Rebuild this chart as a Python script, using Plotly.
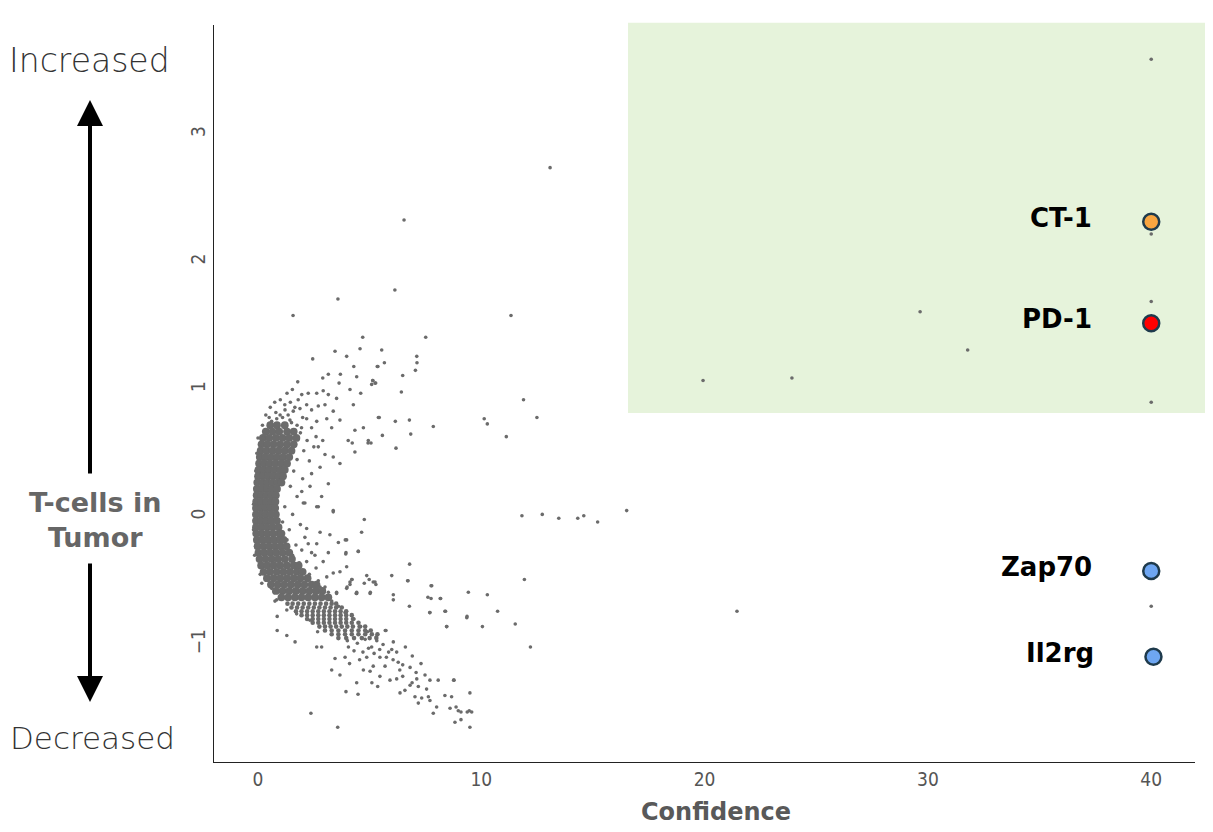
import plotly.graph_objects as go

# ---------------- data ----------------
# dense core of the crescent: rows of (log-change, [confidence values])
core_rows = [
    (0.72, [0.55, 0.85, 1.2]),
    (0.67, [0.35, 0.65, 0.95, 1.3, 1.6]),
    (0.62, [0.22, 0.5, 0.8, 1.1, 1.4, 1.72]),
    (0.57, [0.16, 0.42, 0.7, 1.0, 1.3, 1.6]),
    (0.52, [0.12, 0.38, 0.65, 0.92, 1.2, 1.5]),
    (0.47, [0.08, 0.32, 0.58, 0.85, 1.12, 1.4]),
    (0.42, [0.05, 0.28, 0.52, 0.78, 1.05, 1.3]),
    (0.37, [0.02, 0.25, 0.48, 0.72, 0.98, 1.2]),
    (0.32, [0.0, 0.22, 0.45, 0.68, 0.92, 1.12]),
    (0.27, [-0.03, 0.2, 0.42, 0.65, 0.88, 1.05]),
    (0.22, [-0.05, 0.18, 0.4, 0.62, 0.85]),
    (0.17, [-0.06, 0.16, 0.38, 0.6, 0.8]),
    (0.12, [-0.08, 0.14, 0.36, 0.58, 0.78]),
    (0.07, [-0.09, 0.13, 0.35, 0.57, 0.77]),
    (0.02, [-0.09, 0.13, 0.35, 0.57, 0.8]),
    (-0.03, [-0.09, 0.14, 0.37, 0.6, 0.85]),
    (-0.08, [-0.09, 0.15, 0.4, 0.65, 0.92]),
    (-0.13, [-0.08, 0.17, 0.42, 0.68, 0.95, 1.05]),
    (-0.18, [-0.05, 0.2, 0.45, 0.72, 0.98, 1.15]),
    (-0.23, [-0.02, 0.24, 0.5, 0.76, 1.02, 1.28]),
    (-0.28, [0.02, 0.28, 0.55, 0.82, 1.1, 1.4]),
    (-0.33, [0.07, 0.34, 0.62, 0.9, 1.2, 1.52]),
    (-0.38, [0.14, 0.42, 0.7, 1.0, 1.3, 1.6, 1.82]),
    (-0.43, [0.25, 0.54, 0.84, 1.14, 1.44, 1.74, 2.0]),
    (-0.48, [0.4, 0.7, 1.0, 1.3, 1.6, 1.9, 2.22]),
    (-0.53, [0.58, 0.88, 1.18, 1.48, 1.78, 2.08, 2.4, 2.62]),
    (-0.58, [0.8, 1.1, 1.4, 1.7, 2.0, 2.3, 2.6, 2.88]),
    (-0.63, [1.05, 1.35, 1.65, 1.95, 2.25, 2.55, 2.85, 3.15]),
]

# lower arm of the crescent, still dense but with distinct points
lower_arm_rows = [
    (-0.68, [1.32, 1.55, 1.8, 2.05, 2.3, 2.55, 2.8, 3.05, 3.3, 3.5]),
    (-0.71, [1.5, 1.75, 2.0, 2.25, 2.5, 2.75, 3.0, 3.25, 3.5, 3.75]),
    (-0.74, [1.7, 1.95, 2.2, 2.45, 2.7, 2.95, 3.2, 3.45, 3.7, 3.95]),
    (-0.77, [1.95, 2.2, 2.45, 2.7, 2.95, 3.2, 3.45, 3.7, 3.95, 4.2]),
    (-0.80, [2.2, 2.45, 2.7, 2.95, 3.2, 3.45, 3.7, 3.95, 4.25]),
    (-0.83, [2.45, 2.7, 2.95, 3.2, 3.45, 3.7, 3.95, 4.2, 4.5]),
    (-0.86, [2.75, 3.0, 3.25, 3.5, 3.75, 4.0, 4.25, 4.55, 4.8]),
    (-0.89, [3.0, 3.3, 3.6, 3.9, 4.2, 4.5, 4.8, 5.05]),
    (-0.92, [3.3, 3.6, 3.9, 4.2, 4.5, 4.8, 5.1, 5.35]),
    (-0.95, [3.6, 3.95, 4.3, 4.65, 5.0, 5.3]),
]

# scattered genes around the crescent (confidence, log-change)
halo_pts = [
    (2.45, 1.24), (3.45, 1.30), (3.97, 1.26), (4.57, 1.32), (4.29, 1.18), (5.37, 1.18),
    (1.78, 1.06), (2.90, 1.09), (3.15, 1.12), (3.69, 1.12), (3.63, 1.05), (4.12, 1.00),
    (4.42, 1.10), (4.60, 0.97), (5.14, 1.07), (5.27, 1.05), (1.30, 0.97), (1.54, 1.00),
    (1.80, 0.92), (1.96, 0.96), (2.25, 0.97), (2.63, 0.97), (2.92, 0.99), (3.15, 0.96),
    (3.52, 0.93), (4.27, 0.88), (0.99, 0.80), (1.21, 0.84), (1.58, 0.83), (1.88, 0.85),
    (2.18, 0.88), (2.40, 0.84), (2.70, 0.87), (3.00, 0.88), (3.37, 0.83), (0.61, 0.75),
    (0.84, 0.77), (1.43, 0.76), (2.18, 0.77), (2.63, 0.75), (3.08, 0.77), (3.30, 0.70),
    (0.24, 0.62), (3.67, 0.76), (5.39, 0.78), (4.34, 0.68), (4.72, 0.70), (4.04, 0.60),
    (4.94, 0.60), (4.34, 0.51), (3.67, 0.42), (3.37, 0.47), (3.00, 0.49), (2.70, 0.55),
    (2.40, 0.34), (2.78, 0.39), (3.15, 0.26), (2.85, 0.16), (2.63, 0.08), (3.37, 0.05),
    (2.33, 0.24), (1.96, 0.20), (2.10, 0.11), (4.69, 1.41), (4.22, 0.58), (4.93, 0.58),
    (1.90, 0.66), (2.20, 0.60), (2.05, 0.52), (1.75, 0.45), (2.30, 0.44), (1.60, 0.36),
    (2.00, 0.30), (1.45, 0.24), (1.75, 0.16), (1.20, 0.08), (1.55, 0.02), (1.10, -0.04),
    (1.40, -0.10), (1.90, -0.06), (1.30, -0.18), (1.70, -0.22), (1.55, -0.30), (2.10, -0.16),
    (1.85, -0.36), (2.40, -0.28), (2.60, -0.40), (2.30, -0.45), (2.70, -0.50), (3.00, -0.55),
    (3.30, -0.66), (3.60, -0.70), (3.90, -0.75), (4.30, -0.80), (4.60, -0.86), (4.90, -0.90),
    (5.30, -0.94), (0.00, 0.62), (-0.05, 0.50), (-0.10, 0.36), (-0.20, 0.10), (-0.20, -0.10),
    (-0.15, -0.30), (0.10, -0.45), (0.20, 0.72), (0.35, 0.80), (0.55, 0.86), (0.75, 0.90),
    (1.00, 0.92), (1.20, 0.88), (1.45, 0.90), (1.65, 0.86), (2.00, 0.78), (2.40, 0.70),
    (2.60, 0.63), (2.90, 0.60), (2.50, 0.55), (0.50, 0.78), (1.50, 0.74), (1.75, 0.72),
    (1.95, 0.70), (1.10, 0.78), (0.80, 0.82), (1.35, 0.80),
    (3.37, 0.04), (4.76, -0.02), (4.64, -0.12), (2.70, 0.08), (2.03, 0.11), (2.18, -0.09),
    (2.78, -0.12), (3.22, -0.14), (3.97, -0.18), (3.60, -0.20), (2.63, -0.21), (2.25, -0.21),
    (1.96, -0.26), (3.15, -0.28), (3.94, -0.28), (4.49, -0.27), (2.55, -0.30), (2.92, -0.35),
    (2.18, -0.35), (3.97, -0.39), (3.67, -0.43), (3.37, -0.44), (3.08, -0.47), (4.87, -0.46),
    (4.20, -0.49), (4.12, -0.53), (4.42, -0.59), (4.98, -0.49), (5.24, -0.51), (3.15, -0.59),
    (3.52, -0.59), (2.78, -0.55), (0.17, -0.52), (0.54, -0.53), (0.61, -0.56), (0.84, -0.65),
    (0.76, -0.66), (1.29, -0.73), (0.86, -0.78), (1.73, -0.76), (0.86, -0.89), (1.29, -0.93),
    (1.66, -0.98), (2.63, -1.02), (2.85, -1.02), (2.33, -0.81), (2.67, -0.90),
    (3.91, -0.18), (4.49, -0.27), (3.93, -0.29), (4.21, -0.49), (3.99, -0.55), (5.03, -0.59),
    (4.40, -0.60), (5.16, -0.51), (4.76, -0.52),
]

tail_pts = [
    (3.94, -1.37), (4.48, -1.39), (5.36, -1.33), (5.73, -0.89), (6.06, -0.98), (6.91, -1.09),
    (7.30, -1.15), (6.28, -1.14), (6.81, -1.18), (7.08, -1.22), (5.46, -1.25), (5.91, -1.28),
    (6.21, -1.27), (6.48, -1.25), (7.11, -1.27), (7.48, -1.24), (7.70, -1.28), (8.07, -1.28),
    (8.78, -1.28), (6.81, -1.32), (7.18, -1.33), (7.55, -1.35), (6.36, -1.38), (6.58, -1.36),
    (7.03, -1.41), (7.33, -1.42), (7.63, -1.41), (7.18, -1.46), (7.70, -1.44), (8.00, -1.49),
    (8.37, -1.40), (8.67, -1.41), (7.85, -1.54), (8.60, -1.50), (8.87, -1.49), (8.97, -1.52),
    (9.37, -1.53), (9.57, -1.53), (8.82, -1.61), (9.09, -1.59), (9.49, -1.65), (9.49, -1.38),
    (9.35, -0.79), (8.45, -0.86), (8.37, -0.74), (7.70, -0.75), (7.75, -0.64), (6.78, -0.70),
    (7.61, -0.63), (8.16, -0.64), (9.42, -0.59), (6.06, -0.61), (6.06, -0.65), (6.70, -0.50),
    (7.78, -0.54), (5.02, -0.60), (5.28, -0.53), (3.52, -0.60), (3.97, -0.56), (4.12, -0.51),
    (4.42, -0.60), (5.32, -0.97), (5.09, -1.02), (4.87, -1.10), (5.46, -1.10), (5.69, -1.17),
    (5.16, -1.17), (4.72, -1.20), (5.99, -1.04), (5.02, -1.21), (6.21, -1.06), (6.48, -1.16),
    (3.90, -1.10), (3.45, -1.11), (3.30, -1.20), (3.67, -1.24), (4.42, -1.30), (4.00, -0.97),
    (4.45, -0.99), (4.80, -0.96), (5.60, -1.00), (4.30, -1.05), (4.70, -1.06), (5.20, -1.07),
    (6.60, -1.02), (6.35, -1.20), (5.75, -1.10), (4.10, -1.15), (6.90, -1.30), (5.10, -1.30),
    (5.70, -0.89), (8.76, -1.28), (9.46, -1.52), (9.09, -1.53), (2.37, -1.54), (3.57, -1.65),
    (7.75, -0.54), (8.18, -0.64), (7.69, -0.75), (8.40, -0.74), (8.45, -0.86), (9.36, -0.78),
    (4.05, -1.02), (4.95, -1.03), (5.45, -1.04), (5.85, -1.06), (4.55, -1.12), (6.05, -1.12),
]

outlier_pts = [
    (13.08, 2.74), (6.54, 2.33), (6.13, 1.78), (3.58, 1.71), (1.57, 1.58), (11.33, 1.58),
    (7.51, 1.41), (5.54, 1.31), (5.66, 1.21), (5.34, 1.18), (7.11, 1.26), (7.12, 1.21),
    (7.05, 1.15), (6.48, 1.11), (5.14, 1.07), (5.24, 1.05), (5.09, 1.04), (6.42, 0.98),
    (5.43, 0.78), (6.15, 0.75), (6.78, 0.76), (7.85, 0.71), (5.57, 0.64), (6.84, 0.65),
    (5.06, 0.58), (6.18, 0.54), (6.79, -0.37), (5.99, -0.46), (6.72, -0.50),
    (11.89, 0.92), (10.13, 0.77), (10.27, 0.73), (12.49, 0.78), (11.12, 0.63),
    (11.82, 0.01), (12.73, 0.02), (13.47, -0.01), (14.32, -0.01), (14.59, 0.01),
    (15.21, -0.04), (16.51, 0.05), (11.93, -0.49), (10.27, -0.61), (10.73, -0.74),
    (10.05, -0.86), (11.52, -0.84), (12.20, -1.02),
    (19.93, 1.07), (23.91, 1.09), (29.65, 1.61), (31.78, 1.31), (21.45, -0.74),
    (40.0, 3.59), (40.0, 2.22), (40.0, 1.69), (40.0, 0.90), (40.0, -0.70),
]

highlight_genes = ["CT-1", "PD-1", "Zap70", "Il2rg"]
highlight_x = [40.0, 40.0, 40.0, 40.1]
highlight_y = [2.316, 1.519, -0.424, -1.096]
highlight_colors = ["#F8A541", "#FF0000", "#6EA6F2", "#6EA6F2"]

x_ticks = [0, 10, 20, 30, 40]
y_ticks = [-1, 0, 1, 2, 3]

# ---------------- build ----------------
def expand(rows):
    xs_out, ys_out = [], []
    for yv, xs in rows:
        for xv in xs:
            xs_out.append(xv)
            ys_out.append(yv)
    return xs_out, ys_out

core_x, core_y = expand(core_rows)
arm_x, arm_y = expand(lower_arm_rows)

pts = halo_pts + tail_pts + outlier_pts
pts_x = [p[0] for p in pts]
pts_y = [p[1] for p in pts]

GREY = "#6b6b6b"
fig = go.Figure()
fig.add_trace(go.Scatter(x=core_x, y=core_y, mode="markers",
                         marker=dict(size=7.8, color=GREY), hoverinfo="skip", showlegend=False))
fig.add_trace(go.Scatter(x=arm_x, y=arm_y, mode="markers",
                         marker=dict(size=4.6, color=GREY), hoverinfo="skip", showlegend=False))
fig.add_trace(go.Scatter(x=pts_x, y=pts_y, mode="markers",
                         marker=dict(size=3.6, color=GREY), hoverinfo="skip", showlegend=False))
fig.add_trace(go.Scatter(x=highlight_x, y=highlight_y, mode="markers", text=highlight_genes,
                         marker=dict(size=16, color=highlight_colors,
                                     line=dict(color="#1E3A4C", width=2.5)),
                         showlegend=False))

BOLD_FONT = "DejaVu Sans, Verdana, sans-serif"
for g, xv, yv in zip(highlight_genes, highlight_x, highlight_y):
    fig.add_annotation(x=xv, y=yv, text="<b>%s</b>" % g, showarrow=False,
                       xanchor="right", yanchor="middle", xshift=-57, yshift=4,
                       font=dict(family=BOLD_FONT, size=26, color="#000000"))

# highlighted region (drawn below the points)
fig.add_shape(type="rect", xref="paper", yref="paper", x0=0.422, x1=1.02, y0=0.4735, y1=1.003,
              fillcolor="#E6F3DB", line=dict(width=0), layer="below")

fig.add_annotation(xref="paper", yref="paper", x=-0.1274, y=0.9525, text="Increased",
                   xanchor="center", yanchor="middle", showarrow=False,
                   font=dict(family="DejaVu Sans", weight=200, size=33, color="#333333"))
fig.add_annotation(xref="paper", yref="paper", x=-0.1240, y=0.0326, text="Decreased",
                   xanchor="center", yanchor="middle", showarrow=False,
                   font=dict(family="DejaVu Sans", weight=200, size=31, color="#333333"))
fig.add_annotation(xref="paper", yref="paper", x=-0.1213, y=0.3284,
                   text="<b>T-cells in</b><br><b>Tumor</b>", showarrow=False,
                   xanchor="center", yanchor="middle",
                   font=dict(family=BOLD_FONT, size=27, color="#666666"))
# arrows
fig.add_annotation(xref="paper", yref="paper", x=(90 - 214) / 981, y=(762 - 100) / 737,
                   ax=0, ay=375, text="", showarrow=True, arrowhead=2, arrowsize=1.3,
                   arrowwidth=4, arrowcolor="#000000", standoff=0)
fig.add_annotation(xref="paper", yref="paper", x=(90 - 214) / 981, y=(762 - 702) / 737,
                   ax=0, ay=-140, text="", showarrow=True, arrowhead=2, arrowsize=1.3,
                   arrowwidth=4, arrowcolor="#000000", standoff=0)

# x-axis title
fig.add_annotation(xref="paper", yref="paper", x=(716 - 214) / 981, y=(762 - 812) / 737,
                   text="<b>Confidence</b>", showarrow=False, xanchor="center", yanchor="middle",
                   font=dict(family=BOLD_FONT, size=24, color="#595959"))

TICK_FONT = dict(family="Liberation Sans Narrow, DejaVu Sans Condensed, Arial Narrow, sans-serif",
                 size=19, color="#555555")
fig.update_layout(
    width=1205, height=824,
    margin=dict(l=206, r=18, t=17, b=70),
    plot_bgcolor="white", paper_bgcolor="white",
    xaxis=dict(range=[-1.97, 41.96], tickvals=x_ticks, showgrid=False, zeroline=False,
               showline=True, linecolor="#222222", linewidth=1.2, ticks="",
               tickfont=TICK_FONT),
    yaxis=dict(range=[-1.922, 3.859], tickvals=y_ticks, showgrid=False, zeroline=False,
               showline=True, linecolor="#222222", linewidth=1.2, ticks="",
               tickangle=-90, tickfont=TICK_FONT),
)

fig.write_html("out.html")
